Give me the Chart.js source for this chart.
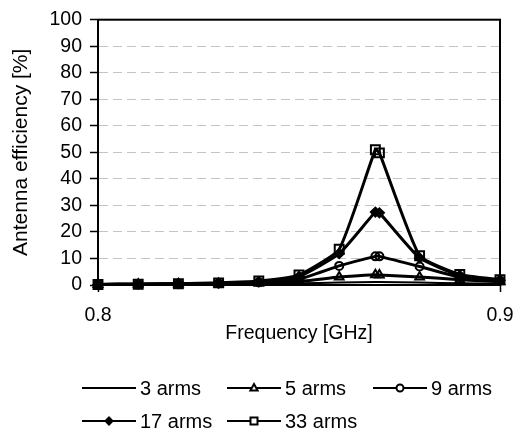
<!DOCTYPE html>
<html>
<head>
<meta charset="utf-8">
<script src="https://cdn.jsdelivr.net/npm/chart.js@4/dist/chart.umd.min.js"></script>
<style>
  html, body { margin: 0; padding: 0; background: #ffffff; }
  #wrap { width: 527px; height: 432px; }
</style>
</head>
<body>
<div id="wrap"><canvas id="c" width="527" height="432"></canvas></div>
<script>
// ---- data ----
const frequencies = [0.80, 0.81, 0.82, 0.83, 0.84, 0.85, 0.86, 0.869, 0.87, 0.88, 0.89, 0.90];
const seriesNames = ['3 arms', '5 arms', '9 arms', '17 arms', '33 arms'];
const arms3  = [0.2, 0.2, 0.3, 0.4, 0.5, 0.7, 0.9, 1.1, 1.1, 0.9, 0.7, 0.5];
const arms5  = [0.2, 0.3, 0.4, 0.5, 0.8, 1.3, 3.0, 3.9, 3.8, 3.0, 2.0, 1.2];
const arms9  = [0.2, 0.3, 0.4, 0.6, 1.0, 2.2, 7.2, 10.8, 10.8, 7.0, 3.0, 1.6];
const arms17 = [0.2, 0.3, 0.5, 0.7, 1.2, 3.2, 11.8, 27.5, 27.2, 10.2, 3.6, 1.8];
const arms33 = [0.2, 0.3, 0.5, 0.8, 1.5, 3.8, 13.5, 51.0, 49.8, 11.0, 4.0, 2.0];
const seriesValues = [arms3, arms5, arms9, arms17, arms33];
const xTickValues = [0.8, 0.9];
const yTickStep = 10;

// ---- styles ----
const FONT = "'Liberation Sans', Arial, sans-serif";
const markerStyles = [false, 'triangle', 'circle', 'rectRot', 'rect'];
const markerRadius = [0, 5, 4, 4.5, 6.3];
const markerFill = ['rgba(0,0,0,0)', 'rgba(0,0,0,0)', 'rgba(0,0,0,0)', '#000000', 'rgba(0,0,0,0)'];

const datasets = seriesNames.map((name, i) => ({
  label: name,
  data: frequencies.map((f, j) => ({ x: f, y: seriesValues[i][j] })),
  borderColor: '#000000',
  borderWidth: i === 0 ? 2 : 3,
  backgroundColor: markerFill[i],
  pointStyle: markerStyles[i],
  pointRadius: markerRadius[i],
  pointBorderWidth: 2,
  pointBorderColor: '#000000',
  pointBackgroundColor: markerFill[i],
  tension: 0.15,
  clip: false,
  fill: false
}));

function drawMarker(ctx, style, x, y, r, fill) {
  if (!style) return;
  ctx.save();
  ctx.beginPath();
  if (style === 'triangle') {
    ctx.moveTo(x, y - r);
    ctx.lineTo(x + r * 0.9, y + r * 0.6);
    ctx.lineTo(x - r * 0.9, y + r * 0.6);
    ctx.closePath();
  } else if (style === 'circle') {
    ctx.arc(x, y, r, 0, Math.PI * 2);
  } else if (style === 'rectRot') {
    ctx.moveTo(x, y - r); ctx.lineTo(x + r, y); ctx.lineTo(x, y + r); ctx.lineTo(x - r, y);
    ctx.closePath();
  } else if (style === 'rect') {
    ctx.rect(x - r, y - r, 2 * r, 2 * r);
  }
  ctx.fillStyle = fill;
  ctx.fill();
  ctx.lineWidth = 2;
  ctx.strokeStyle = '#000';
  ctx.stroke();
  ctx.restore();
}

const frameAndLegend = {
  id: 'frameAndLegend',
  beforeDatasetsDraw(chart) {
    const { ctx, chartArea: a } = chart;
    ctx.save();
    ctx.lineWidth = 2;
    ctx.strokeStyle = '#000';
    ctx.strokeRect(a.left, a.top, a.right - a.left, a.bottom - a.top);
    ctx.restore();
  },
  afterDraw(chart) {
    const ctx = chart.ctx;
    const cols = [82, 227, 373];
    const rows = [388, 421];
    const lineLen = 54;
    const legendMarkerR = [0, 4, 3.5, 3.5, 3.5];
    ctx.save();
    ctx.font = "20px " + FONT;
    ctx.textBaseline = 'middle';
    ctx.fillStyle = '#000';
    seriesNames.forEach((name, i) => {
      const x = cols[i % 3];
      const y = rows[Math.floor(i / 3)];
      ctx.beginPath();
      ctx.lineWidth = 2;
      ctx.strokeStyle = '#000';
      ctx.moveTo(x, y);
      ctx.lineTo(x + lineLen, y);
      ctx.stroke();
      drawMarker(ctx, markerStyles[i], x + lineLen / 2, y, legendMarkerR[i],
                 i === 3 ? '#000' : '#fff');
      ctx.fillText(name, x + lineLen + 4, y + 1);
    });
    ctx.restore();
  }
};

new Chart(document.getElementById('c'), {
  type: 'line',
  data: { datasets },
  plugins: [frameAndLegend],
  options: {
    responsive: false,
    animation: false,
    devicePixelRatio: 1,
    layout: { padding: { left: 0, right: 27, top: 16, bottom: 87 } },
    plugins: { legend: { display: false }, tooltip: { enabled: false } },
    scales: {
      x: {
        type: 'linear',
        min: 0.8,
        max: 0.9,
        afterBuildTicks(scale) { scale.ticks = xTickValues.map(v => ({ value: v })); },
        afterFit(scale) { scale.height = 60; },
        ticks: {
          color: '#000',
          font: { family: FONT, size: 19.5 },
          padding: 12,
          maxRotation: 0,
          callback: v => Number(v).toFixed(1)
        },
        grid: { drawOnChartArea: false, drawTicks: true, tickLength: 7, tickColor: '#000', tickWidth: 1.5 },
        border: { display: true, color: '#000', width: 2 },
        title: {
          display: true,
          text: 'Frequency [GHz]',
          color: '#000',
          font: { family: FONT, size: 19.5 },
          padding: { top: 0, bottom: 0 }
        }
      },
      y: {
        min: 0,
        max: 100,
        afterFit(scale) { scale.width = 98; },
        ticks: {
          stepSize: yTickStep,
          color: '#000',
          font: { family: FONT, size: 19.5 },
          padding: 8
        },
        grid: {
          color: ctx => (ctx.tick && (ctx.tick.value === 0 || ctx.tick.value === 100)) ? 'rgba(0,0,0,0)' : '#c4c4c4',
          lineWidth: 1,
          tickLength: 8,
          tickColor: '#000',
          tickWidth: 1.5,
          tickBorderDash: []
        },
        border: { display: true, color: '#000', width: 2, dash: [9, 5] },
        title: {
          display: true,
          text: 'Antenna efficiency [%]',
          color: '#000',
          font: { family: FONT, size: 21 },
          padding: { top: 9, bottom: 0 }
        }
      }
    }
  }
});
</script>
</body>
</html>
